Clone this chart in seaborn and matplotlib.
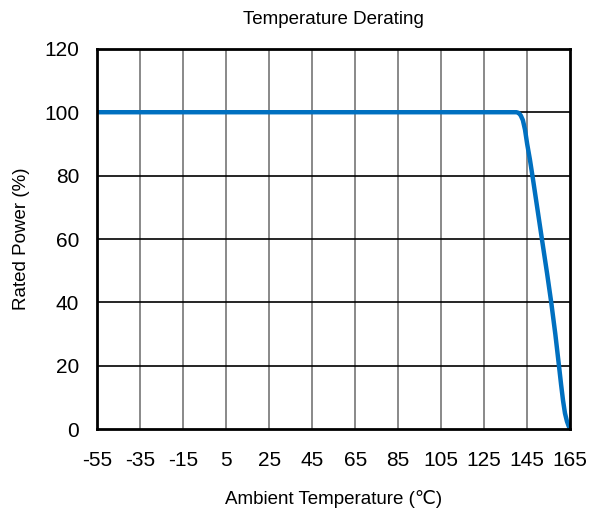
import seaborn as sns
import matplotlib.pyplot as plt
import numpy as np
import pandas as pd

# Derating curve
temperature = [-55, 140, 141, 142, 143, 144, 145, 146.3, 147.9, 150.1, 152.3, 154.3, 156.2, 158.1, 159.8, 160.8, 161.7, 162.6, 163.5, 164.3, 165]
rated_power = [100, 100, 99.8, 99, 97.5, 94.5, 90, 85, 78, 68, 58, 49, 40, 30, 20, 14, 9, 5, 2.5, 1, 0]
x_ticks = list(range(-55, 166, 20))
y_ticks = list(range(0, 121, 20))

df = pd.DataFrame({"temp": temperature, "power": rated_power})

sns.set_style("white")
plt.rcParams["font.family"] = ["Liberation Sans", "DejaVu Sans"]
plt.rcParams["axes.unicode_minus"] = False

fig = plt.figure(figsize=(5.89, 5.14), dpi=100)
ax = fig.add_axes([0.165, 0.165, 0.803, 0.74])

sns.lineplot(data=df, x="temp", y="power", ax=ax, color="#0070C0", linewidth=3.2, solid_capstyle="butt")

ax.set_xlim(-55, 165)
ax.set_ylim(0, 120)
ax.set_xticks(x_ticks)
ax.set_yticks(y_ticks)
for xv in x_ticks[1:-1]:
    ax.axvline(xv, color="#808080", linewidth=1.3, zorder=0)
for yv in y_ticks[1:-1]:
    ax.axhline(yv, color="black", linewidth=1.2, zorder=0)

for s in ax.spines.values():
    s.set_color("black")
    s.set_linewidth(2)

ax.tick_params(axis="both", length=0, labelsize=15, colors="black")
ax.tick_params(axis="x", pad=16)
ax.tick_params(axis="y", pad=13)

ax.set_title("Temperature Derating", fontsize=13.5, pad=18, color="black")
ax.set_xlabel("Ambient Temperature (℃)", fontsize=13.5, labelpad=14, color="black")
ax.set_ylabel("Rated Power (%)", fontsize=13.5, labelpad=10, color="black")

fig.savefig("out.png", dpi=100)
